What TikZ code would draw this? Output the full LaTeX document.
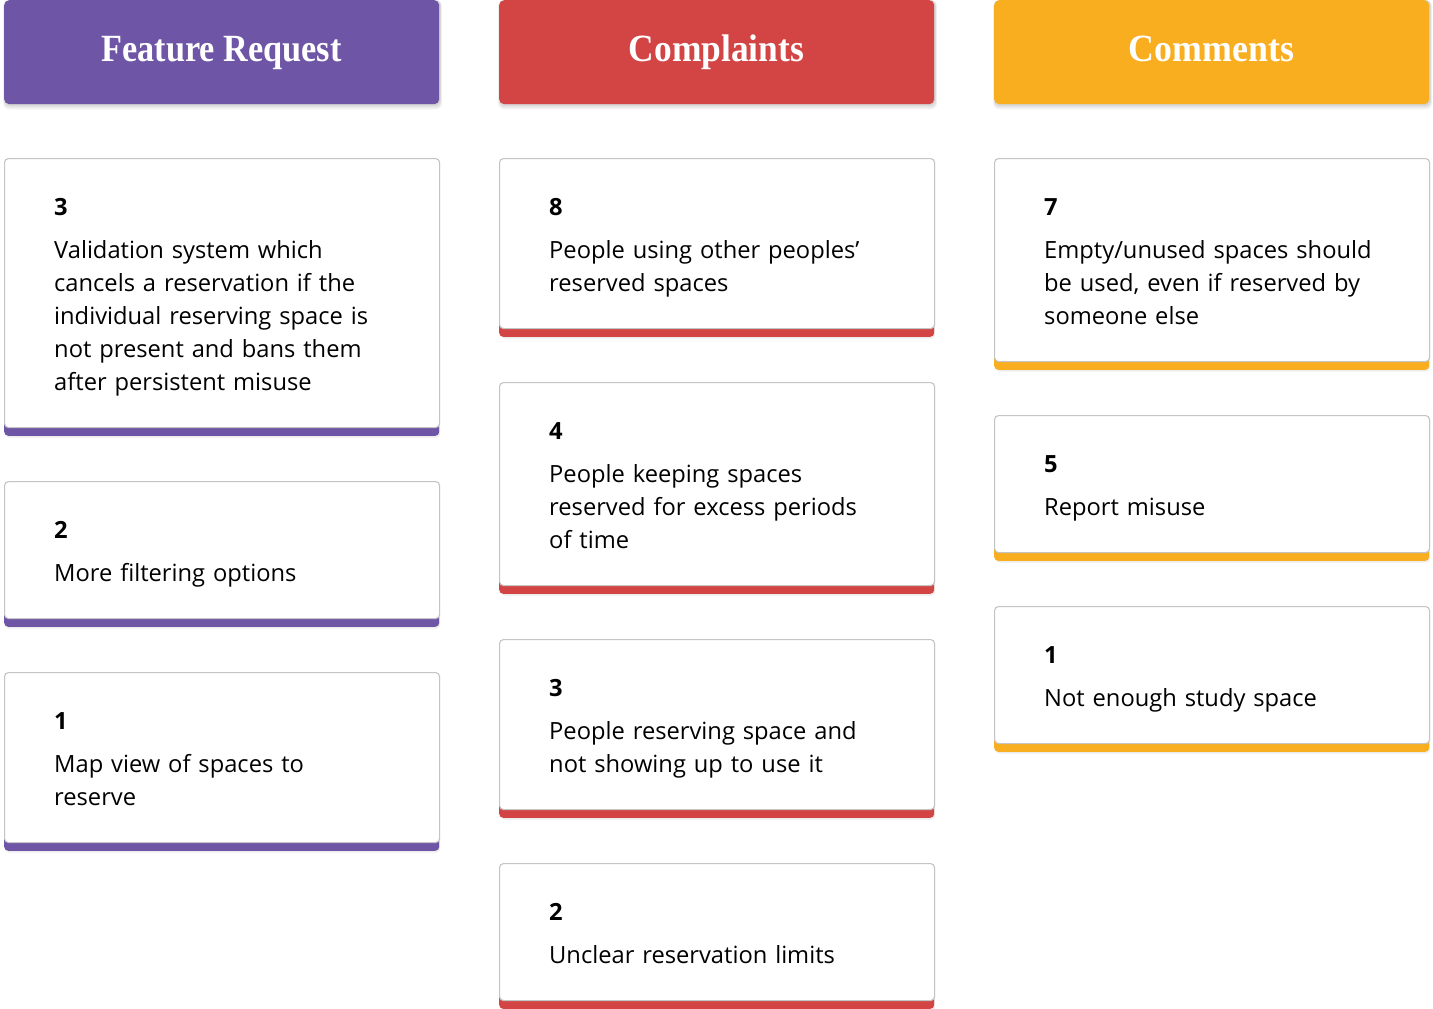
\documentclass[tikz,border=0pt]{standalone}
\usepackage{fontspec}
\usepackage{graphicx}
\setmainfont{Open Sans}
\newfontfamily\headfont{Liberation Serif}

\definecolor{fpurple}{HTML}{6E55A5}
\definecolor{cred}{HTML}{D34444}
\definecolor{cyellow}{HTML}{F9AE1F}
\definecolor{cardline}{HTML}{C4C4C4}

\tikzset{
  headbox/.style={rounded corners=5pt, minimum width=435pt, minimum height=104pt,
    inner sep=0pt, anchor=north west},
  headtext/.style={text=white, inner sep=0pt, anchor=base,
    font=\headfont\bfseries\fontsize{38.5}{40}\selectfont},
  cardbar/.style={rounded corners=4pt, minimum width=435pt, inner sep=0pt},
  cardbox/.style={draw=cardline, line width=1.1pt, fill=white, rounded corners=4pt,
    minimum width=435pt, inner sep=0pt},
  cardtext/.style={inner sep=0pt, text width=370pt, align=left,
    font=\fontsize{23.7}{33}\selectfont},
}

% one card: name, colour, left x, top y, bottom y of the white part, count, text
\newcommand\fbcard[7]{%
  \fill[black, opacity=0.07, rounded corners=4pt] (#3+1.2, #4+1.5) rectangle (#3+436.2, #5+10.5);
  \node[cardbar, fill=#2, anchor=south west, minimum height=21pt] (#1bar) at (#3, #5+9) {};
  \node[cardbox, anchor=north west, minimum height={(#5-#4)*1pt}] (#1) at (#3, #4) {};
  \node[cardtext, anchor=base west] (#1txt) at (#3+50, #4+57) {\textbf{#6}\\[10pt]#7};
}

% one column head: name, colour, left x, title, horizontal squeeze
\newcommand\fbhead[5]{%
  \foreach \k in {1,...,5}{
    \fill[black, opacity=0.035, rounded corners=6pt] (#3+1-\k*0.4, 0) rectangle (#3+436+\k*0.4, 104+\k*1.1);
  }
  \node[headbox, fill=#2] (#1) at (#3, 0) {};
  \node[headtext] (#1txt) at (#3+217.5, 61.5) {\scalebox{#5}[1]{#4}};
}

\begin{document}
\begin{tikzpicture}[x=1pt, y=-1pt]
  \useasboundingbox[fill=white] (0,0) rectangle (1433,1009);

  % column heads
  \fbhead{hfeat}{fpurple}{4}{Feature Request}{0.89}
  \fbhead{hcomp}{cred}{499}{Complaints}{0.92}
  \fbhead{hcomm}{cyellow}{994}{Comments}{0.93}

  % Feature Request
  \fbcard{fr1}{fpurple}{4}{158}{427}{3}{Validation system which\\cancels a reservation if the\\individual reserving space is\\not present and bans them\\after persistent misuse}
  \fbcard{fr2}{fpurple}{4}{481}{618}{2}{More filtering options}
  \fbcard{fr3}{fpurple}{4}{672}{842}{1}{Map view of spaces to\\reserve}

  % Complaints
  \fbcard{cp1}{cred}{499}{158}{328}{8}{People using other peoples’\\reserved spaces}
  \fbcard{cp2}{cred}{499}{382}{585}{4}{People keeping spaces\\reserved for excess periods\\of time}
  \fbcard{cp3}{cred}{499}{639}{809}{3}{People reserving space and\\not showing up to use it}
  \fbcard{cp4}{cred}{499}{863}{1000}{2}{Unclear reservation limits}

  % Comments
  \fbcard{cm1}{cyellow}{994}{158}{361}{7}{Empty/unused spaces should\\be used, even if reserved by\\someone else}
  \fbcard{cm2}{cyellow}{994}{415}{552}{5}{Report misuse}
  \fbcard{cm3}{cyellow}{994}{606}{743}{1}{Not enough study space}
\end{tikzpicture}
\end{document}
